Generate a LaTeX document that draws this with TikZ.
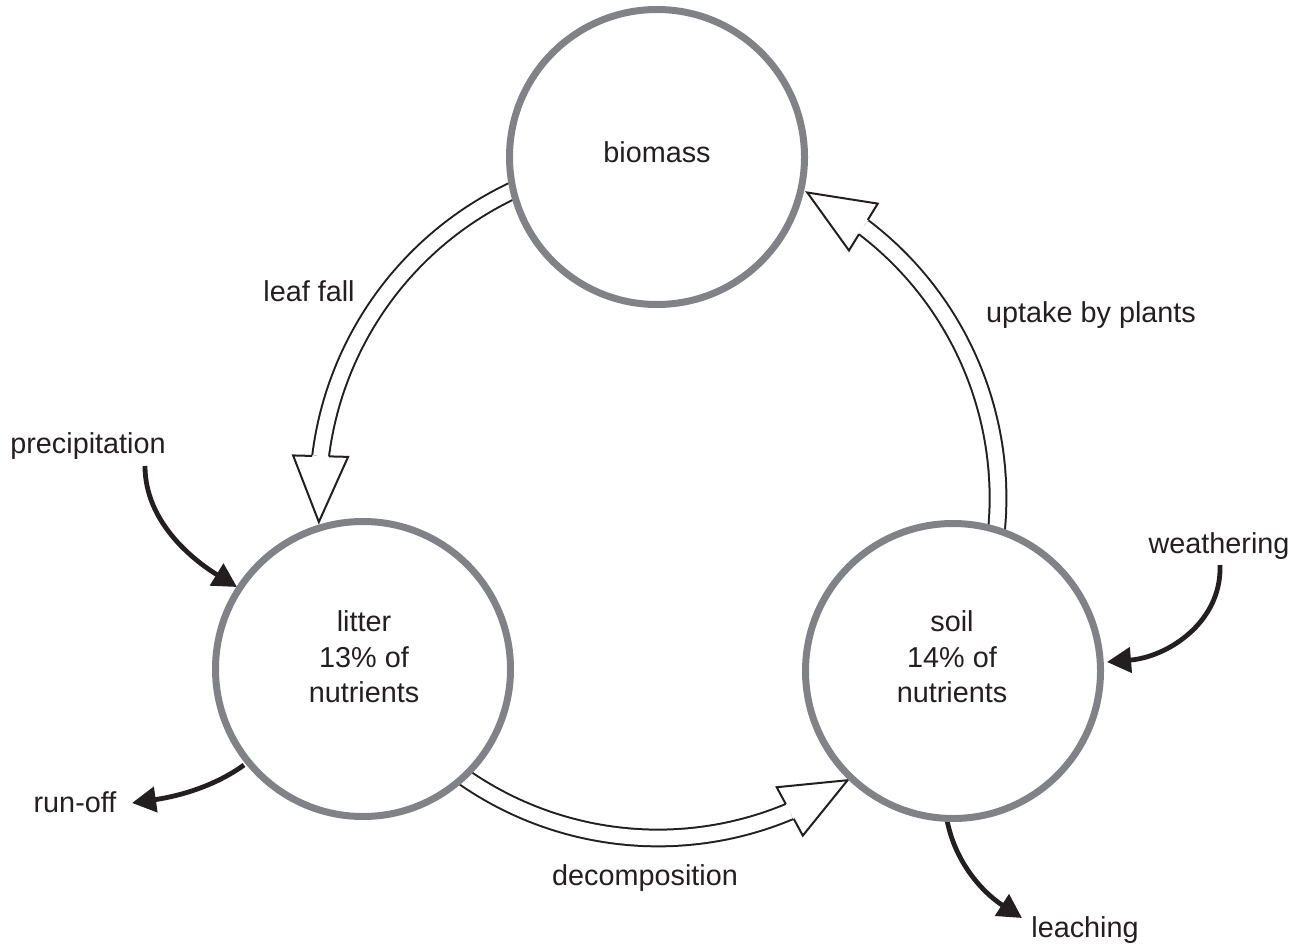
\documentclass[tikz,border=0pt]{standalone}
\usepackage{fontspec}
\setmainfont{Liberation Sans}
\usetikzlibrary{arrows.meta,calc}
\definecolor{ringgrey}{RGB}{128,130,133}
\definecolor{ink}{RGB}{35,31,32}
\newcommand\hollowflow[3]{%
  \draw[flowbody] ($(hub)+(#1:340)$) arc[start angle=#1, end angle=#2, radius=340];
  \coordinate (hb) at ($(hub)+(#2:340)$);
  \coordinate (ht) at ($(hub)+(#3:340)$);
  \fill[white] ($(hb)!13.75pt!90:(ht)$) -- (ht) -- ($(hb)!13.75pt!-90:(ht)$) -- cycle;
  \draw[headline] ($(hb)!4.175pt!90:(ht)$) -- ($(hb)!13.75pt!90:(ht)$) -- (ht)
     -- ($(hb)!13.75pt!-90:(ht)$) -- ($(hb)!4.175pt!-90:(ht)$);
}
\begin{document}
\begin{tikzpicture}[x=0.5pt,y=-0.5pt,
  pool/.style={circle, draw=ringgrey, line width=3.5pt, minimum size=147.5pt, inner sep=0pt, fill=white},
  lbl/.style={font=\fontsize{14.4}{17.65}\selectfont, text=ink, inner sep=0pt, align=center},
  flowbody/.style={draw=ink, line width=1pt, double=white, double distance=7.35pt},
  headline/.style={draw=ink, line width=1pt, line join=miter},
  flux/.style={draw=ink, line width=2.4pt, -{Triangle[length=12pt,width=12.5pt]}},
]
\useasboundingbox (0,0) rectangle (1305,946);
\coordinate (hub) at (658,498);

% hollow flows
\hollowflow{247}{187.07}{175.95}
\hollowflow{7}{-52.84}{-63.96}
\hollowflow{127}{67.2}{56.1}

% external fluxes
\coordinate (precS) at (145,466);
\coordinate (precE) at (237,587);
\coordinate (weaS) at (1220,565);
\coordinate (weaE) at (1107,662);
\coordinate (runS) at (244,765);
\coordinate (runE) at (132,803);
\coordinate (leaS) at (947,820);
\coordinate (leaE) at (1022,918);
\draw[flux] (precS) .. controls (145,522) and (193,560) .. (precE);
\draw[flux] (weaS) .. controls (1222,622) and (1168,657) .. (weaE);
\draw[flux] (runS) .. controls (215,786) and (180,796) .. (runE);
\draw[flux] (leaS) .. controls (955,862) and (982,892) .. (leaE);

% pools
\node[pool] (biomass) at (657,157) {};
\node[pool] (litter) at (363,669) {};
\node[pool] (soil) at (953,671) {};

\node[lbl, anchor=base] (biomasstxt) at (657,163) {biomass};
\node[lbl] (littertxt) at (364,657) {litter\\13\% of\\nutrients};
\node[lbl] (soiltxt) at (952,657) {soil\\14\% of\\nutrients};

\node[lbl, anchor=base] (leaffall) at (309,302) {leaf fall};
\node[lbl, anchor=base] (uptake) at (1091,322) {uptake by plants};
\node[lbl, anchor=base] (decomp) at (645,885) {decomposition};
\node[lbl, anchor=base] (prec) at (88,453) {precipitation};
\node[lbl, anchor=base] (weath) at (1219,553) {weathering};
\node[lbl, anchor=base] (runoff) at (75,812) {run-off};
\node[lbl, anchor=base] (leach) at (1085,937) {leaching};
\end{tikzpicture}
\end{document}
